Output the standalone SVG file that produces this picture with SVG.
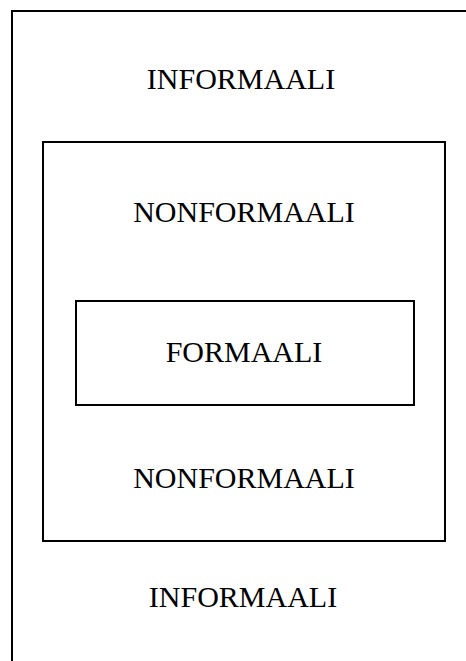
<svg xmlns="http://www.w3.org/2000/svg" width="466" height="661" viewBox="0 0 466 661">
  <style>
    .frame { fill: none; stroke: #000; stroke-width: 2; }
    .label { font-family: "Liberation Serif", "Times New Roman", serif; font-size: 30px; fill: #000; text-anchor: middle; }
  </style>
  <rect width="466" height="661" fill="#fff"/>
  <!-- informal learning: outer field, open to the right and bottom -->
  <g id="informaali">
    <path class="frame" d="M12,661 V11 H466"/>
    <text class="label" x="241" y="89">INFORMAALI</text>
    <text class="label" x="243" y="607">INFORMAALI</text>
  </g>
  <!-- non-formal learning -->
  <g id="nonformaali">
    <rect class="frame" x="43" y="142" width="402" height="399"/>
    <text class="label" x="244" y="222">NONFORMAALI</text>
    <text class="label" x="244" y="488">NONFORMAALI</text>
  </g>
  <!-- formal learning -->
  <g id="formaali">
    <rect class="frame" x="76" y="301" width="338" height="104"/>
    <text class="label" x="244" y="362">FORMAALI</text>
  </g>
  <g id="connectors"/>
</svg>
